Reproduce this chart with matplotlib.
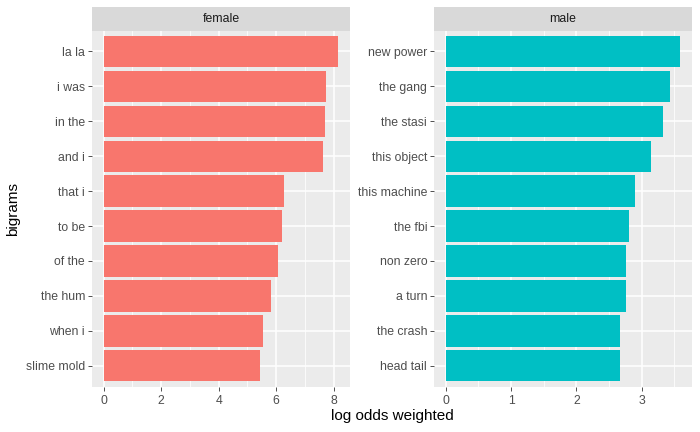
import matplotlib
matplotlib.use("Agg")
import matplotlib.pyplot as plt

female_bigrams = ["la la", "i was", "in the", "and i", "that i", "to be", "of the", "the hum", "when i", "slime mold"]
female_values = [8.16, 7.75, 7.71, 7.64, 6.26, 6.19, 6.05, 5.81, 5.54, 5.43]
male_bigrams = ["new power", "the gang", "the stasi", "this object", "this machine", "the fbi", "non zero", "a turn", "the crash", "head tail"]
male_values = [3.59, 3.44, 3.33, 3.14, 2.89, 2.80, 2.76, 2.76, 2.66, 2.66]
female_ticks = [0, 2, 4, 6, 8]
male_ticks = [0, 1, 2, 3]
panels = ["female", "male"]
colors = {"female": "#F8766D", "male": "#00BFC4"}

plt.rcParams['font.family'] = ['Liberation Sans', 'DejaVu Sans']
W, H = 700, 432
fig = plt.figure(figsize=(7, 4.32), dpi=100)

def box(x0, y0, x1, y1):
    return [x0 / W, 1 - y1 / H, (x1 - x0) / W, (y1 - y0) / H]

panel_px = {"female": (92, 350), "male": (434, 692)}
top, bottom, strip_top = 30.5, 386.7, 7

data = {"female": (female_bigrams, female_values, female_ticks),
        "male": (male_bigrams, male_values, male_ticks)}

for name in panels:
    labels, vals, ticks = data[name]
    x0, x1 = panel_px[name]
    ax = fig.add_axes(box(x0, top, x1, bottom))
    ax.set_facecolor("#EBEBEB")
    n = len(labels)
    ypos = list(range(n, 0, -1))
    vmax = max(vals)
    pad = vmax * 0.05
    ax.set_xlim(-pad, vmax + pad)
    ax.set_ylim(0.4, n + 0.6)
    step = ticks[1] - ticks[0]
    minors = [t + step / 2 for t in [ticks[0] - step] + ticks]
    for m in minors:
        if -pad < m < vmax + pad:
            ax.axvline(m, color="white", lw=0.55, zorder=0.5)
    for t in ticks:
        ax.axvline(t, color="white", lw=1.1, zorder=0.6)
    for y in ypos:
        ax.axhline(y, color="white", lw=1.1, zorder=0.6)
    ax.barh(ypos, vals, height=0.9, color=colors[name], zorder=2)
    ax.set_yticks(ypos)
    ax.set_yticklabels(labels)
    ax.set_xticks(ticks)
    ax.set_xticklabels([str(t) for t in ticks])
    ax.tick_params(axis="both", colors="#333333", labelcolor="#4D4D4D",
                   labelsize=8.8, length=2.75, width=0.6, pad=2.2)
    ax.tick_params(axis="x", pad=3.4)
    for s in ax.spines.values():
        s.set_visible(False)
    sax = fig.add_axes(box(x0, strip_top, x1, top))
    sax.set_facecolor("#D9D9D9")
    sax.set_xticks([]); sax.set_yticks([])
    for s in sax.spines.values():
        s.set_visible(False)
    sax.text(0.5, 0.5, name, ha="center", va="center", fontsize=8.8,
             color="#1A1A1A", transform=sax.transAxes)

fig.text((92 + 692) / 2 / W, 1 - 416 / H, "log odds weighted", ha="center",
         va="center", fontsize=11, color="black")
fig.text(13 / W, 1 - ((top + bottom) / 2) / H, "bigrams", rotation=90,
         ha="center", va="center", fontsize=11, color="black")

fig.savefig("out.png", dpi=100, facecolor="white")
